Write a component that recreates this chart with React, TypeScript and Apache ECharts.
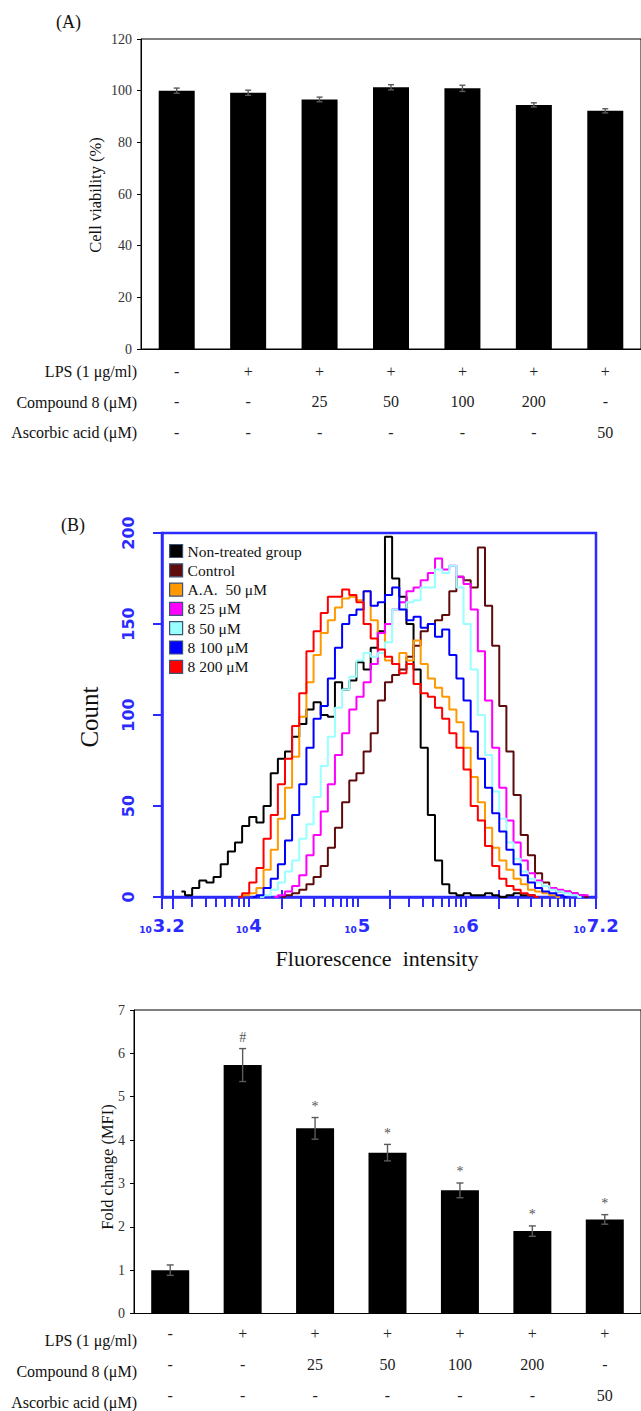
import React, { useEffect, useRef } from "react";
import * as echarts from "echarts";

// ---------- DATA ----------
const groups = ["Non-treated", "LPS", "LPS+8 25", "LPS+8 50", "LPS+8 100", "LPS+8 200", "LPS+A.A. 50"];
const lpsRow = ["-", "+", "+", "+", "+", "+", "+"];
const compoundRow = ["-", "-", "25", "50", "100", "200", "-"];
const ascorbicRow = ["-", "-", "-", "-", "-", "-", "50"];
const rowLabels = ["LPS (1 μg/ml)", "Compound 8 (μM)", "Ascorbic acid (μM)"];

const viability = [100.0, 99.2, 96.6, 101.3, 100.9, 94.5, 92.2];
const viabilityErr = [1.0, 1.0, 0.9, 1.0, 1.2, 0.8, 0.8];
const viabilityTicks = [0, 20, 40, 60, 80, 100, 120];

const foldChange = [1.0, 5.73, 4.27, 3.71, 2.84, 1.9, 2.17];
const foldErr = [0.12, 0.38, 0.25, 0.19, 0.17, 0.12, 0.11];
const foldMarks = ["", "#", "*", "*", "*", "*", "*"];

// flow cytometry histogram bins (log10 of fluorescence intensity)
const logBins = [
  3.379, 3.445, 3.511, 3.576, 3.642, 3.708, 3.774, 3.84, 3.906, 3.971,
  4.037, 4.103, 4.169, 4.235, 4.301, 4.366, 4.432, 4.498, 4.564, 4.63,
  4.696, 4.761, 4.827, 4.893, 4.959, 5.025, 5.091, 5.156, 5.222, 5.288,
  5.354, 5.42, 5.486, 5.551, 5.617, 5.683, 5.749, 5.815, 5.881, 5.946,
  6.012, 6.078, 6.144, 6.21, 6.276, 6.341, 6.407, 6.473, 6.539, 6.605,
  6.671, 6.736, 6.802, 6.868, 6.934, 7.0, 7.066, 7.131,
];
const histNames = ["Non-treated group", "Control", "A.A.  50 μM", "8 25 μM", "8 50 μM", "8 100 μM", "8 200 μM"];
const histColors = ["#000000", "#5e0b0b", "#ff9900", "#ff00ff", "#99ffff", "#0000ff", "#ff0000"];
const nonTreated = [
  3, 1, 5, 9, 8, 11, 18, 25, 30, 39, 44, 41, 50, 68, 76, 80, 88, 95, 103, 107,
  100, 99, 118, 114, 119, 129, 125, 137, 146, 198, 175, 165, 150, 125, 82, 45, 20, 7, 2, 1,
  2, 1, 1, 2, 1, 0, 1, 2, 1, 1, 0, 0, 0, 0, 0, 0, 0, 0,
];
const control = [
  0, 0, 0, 0, 0, 0, 0, 0, 0, 0, 0, 0, 0, 0, 0, 1, 2, 4, 7, 11,
  17, 27, 38, 52, 64, 68, 80, 90, 108, 118, 122, 125, 132, 138, 146, 150, 152, 155, 168, 176,
  174, 170, 192, 160, 138, 105, 80, 56, 34, 23, 13, 8, 5, 3, 3, 2, 1, 0,
];
const aa50 = [
  0, 0, 0, 0, 0, 0, 0, 0, 0, 1, 2, 5, 15, 26, 43, 60, 77, 99, 118, 133,
  145, 152, 159, 164, 165, 163, 168, 152, 145, 130, 128, 134, 130, 141, 128, 120, 115, 110, 103, 96,
  82, 66, 52, 38, 27, 20, 15, 10, 7, 4, 3, 2, 1, 0, 0, 0, 0, 0,
];
const c25 = [
  0, 0, 0, 0, 0, 0, 0, 0, 0, 0, 0, 0, 0, 0, 1, 3, 6, 12, 23, 34,
  47, 62, 78, 90, 103, 110, 118, 128, 145, 150, 158, 162, 168, 170, 174, 178, 186, 180, 182, 176,
  172, 158, 135, 108, 82, 60, 42, 30, 20, 13, 9, 6, 5, 4, 3, 2, 1, 1,
];
const c50 = [
  0, 0, 0, 0, 0, 0, 0, 0, 0, 0, 0, 0, 1, 4, 8, 14, 20, 32, 40, 55,
  72, 88, 104, 114, 121, 130, 134, 132, 134, 140, 158, 158, 162, 163, 170, 170, 180, 178, 182, 170,
  150, 125, 100, 78, 58, 43, 30, 21, 14, 10, 8, 6, 4, 3, 2, 1, 0, 0,
];
const c100 = [
  0, 0, 0, 0, 0, 0, 0, 0, 0, 0, 0, 1, 5, 10, 18, 31, 45, 62, 82, 98,
  105, 120, 137, 150, 155, 158, 168, 160, 162, 166, 170, 158, 152, 154, 148, 150, 143, 147, 133, 120,
  108, 91, 76, 60, 46, 36, 26, 18, 12, 8, 5, 3, 2, 1, 0, 0, 0, 0,
];
const c200 = [
  0, 0, 0, 0, 0, 0, 0, 0, 0, 2, 8, 16, 32, 45, 62, 76, 94, 112, 135, 146,
  156, 165, 165, 169, 166, 162, 150, 142, 136, 132, 128, 123, 128, 117, 112, 110, 104, 98, 90, 82,
  70, 50, 42, 28, 17, 10, 6, 4, 2, 1, 0, 0, 0, 0, 0, 0, 0, 0,
];
const histCounts = [nonTreated, control, aa50, c25, c50, c100, c200];
const countTicks = [0, 50, 100, 150, 200];
const fluorLabelExps = [3.2, 4, 5, 6, 7.2];
const fluorDecades = [3, 4, 5, 6, 7];
const fluorMinorMult = [1, 3, 4, 5, 6, 7, 8, 9];
const fluorMajorMult = [2];

// ---------- STYLE ----------
const SERIF = '"Liberation Serif", "Times New Roman", serif';
const BLUE = "#2b2bff";
const XMIN = 3.2;
const XMAX = 7.2;

function toPairs(counts: number[]) {
  let s = counts.findIndex((c) => c > 0);
  s = Math.max(0, s - 1);
  const rev = [...counts].reverse().findIndex((c) => c > 0);
  let e = counts.length - 1 - rev;
  e = Math.min(counts.length - 1, e + 1);
  const out: number[][] = [];
  for (let i = s; i <= e; i++) out.push([logBins[i], counts[i]]);
  return out;
}

const minorTickVals: number[] = [];
fluorDecades.forEach((d) =>
  fluorMinorMult.forEach((m) => {
    const v = d + Math.log10(m);
    if (v > XMIN + 0.01 && v < XMAX - 0.01) minorTickVals.push(v);
  })
);
const majorTickVals: number[] = [XMIN, XMAX];
fluorDecades.forEach((d) =>
  fluorMajorMult.forEach((m) => {
    const v = d + Math.log10(m);
    if (v > XMIN && v < XMAX) majorTickVals.push(v);
  })
);

function errRenderer(marks: string[] | null, cap: number) {
  return (params: any, api: any) => {
    const i = api.value(0);
    const v = api.value(1);
    const e = api.value(2);
    const hi = api.coord([i, v + e]);
    const lo = api.coord([i, v - e]);
    const st = { stroke: "#5a5a5a", lineWidth: 1.4 };
    const children: any[] = [
      { type: "line", shape: { x1: hi[0], y1: hi[1], x2: lo[0], y2: lo[1] }, style: st },
      { type: "line", shape: { x1: hi[0] - cap, y1: hi[1], x2: hi[0] + cap, y2: hi[1] }, style: st },
      { type: "line", shape: { x1: lo[0] - cap, y1: lo[1], x2: lo[0] + cap, y2: lo[1] }, style: st },
    ];
    if (marks && marks[i]) {
      children.push({
        type: "text",
        x: hi[0],
        y: hi[1] - 11,
        style: {
          text: marks[i],
          align: "center",
          verticalAlign: "middle",
          textAlign: "center",
          textVerticalAlign: "middle",
          font: `14px ${SERIF}`,
          fill: "#555",
        },
      });
    }
    return { type: "group", children };
  };
}

function tableFormatter(_v: string, idx: number) {
  return `${lpsRow[idx]}\n${compoundRow[idx]}\n${ascorbicRow[idx]}`;
}

function gText(text: string, x: number, y: number, size: number, align: string, rotate = 0, extra: any = {}) {
  return {
    type: "text",
    x,
    y,
    rotation: rotate,
    style: {
      text,
      font: `${size}px ${SERIF}`,
      fill: "#111",
      align,
      verticalAlign: "middle",
      textAlign: align,
      textVerticalAlign: "middle",
      ...extra,
    },
  };
}

const option: any = {
  animation: false,
  backgroundColor: "#ffffff",
  grid: [
    { left: 141, top: 39, width: 501, height: 310, show: true, borderColor: "#000", borderWidth: 1 },
    { left: 162, top: 533, width: 434, height: 364, show: true, borderColor: BLUE, borderWidth: 2.5 },
    { left: 134, top: 1010, width: 516, height: 310, show: true, borderColor: "#000", borderWidth: 1 },
  ],
  legend: {
    data: histNames,
    orient: "vertical",
    left: 169,
    top: 543,
    padding: 0,
    itemWidth: 13,
    itemHeight: 13,
    itemGap: 3.3,
    icon: "rect",
    selectedMode: false,
    itemStyle: { borderColor: "#3d5275", borderWidth: 1.2 },
    textStyle: { fontFamily: SERIF, fontSize: 15.5, color: "#111", padding: [0, 0, 0, 0] },
  },
  xAxis: [
    {
      gridIndex: 0,
      type: "category",
      data: groups,
      axisLine: { lineStyle: { color: "#000", width: 1 } },
      axisTick: { show: false },
      axisLabel: {
        interval: 0,
        margin: 7,
        formatter: tableFormatter,
        fontFamily: SERIF,
        fontSize: 16,
        lineHeight: 30.5,
        color: "#222",
      },
    },
    {
      gridIndex: 1,
      type: "value",
      min: XMIN,
      max: XMAX,
      position: "bottom",
      splitLine: { show: false },
      axisLine: { lineStyle: { color: BLUE, width: 2.5 } },
      axisTick: { show: true, customValues: minorTickVals, length: 10, lineStyle: { color: BLUE, width: 2 } },
      axisLabel: {
        customValues: fluorLabelExps,
        margin: 19,
        color: BLUE,
        formatter: (v: number) => `{s|10}{e|${Number.isInteger(v) ? v : v.toFixed(1)}}`,
        rich: {
          s: { fontSize: 9, fontWeight: "bold", fontFamily: "DejaVu Sans", color: BLUE, verticalAlign: "bottom", padding: [8, 1, 0, 0] },
          e: { fontSize: 18, fontWeight: "bold", fontFamily: "DejaVu Sans", color: BLUE },
        },
      },
    },
    {
      gridIndex: 1,
      type: "value",
      min: XMIN,
      max: XMAX,
      position: "bottom",
      offset: -7,
      splitLine: { show: false },
      axisLine: { show: false },
      axisLabel: { show: false },
      axisTick: { show: true, customValues: majorTickVals, length: 19, lineStyle: { color: BLUE, width: 2 } },
    },
    {
      gridIndex: 2,
      type: "category",
      data: groups,
      axisLine: { lineStyle: { color: "#000", width: 1 } },
      axisTick: { show: false },
      axisLabel: {
        interval: 0,
        margin: 4.5,
        formatter: tableFormatter,
        fontFamily: SERIF,
        fontSize: 16,
        lineHeight: 31,
        color: "#222",
      },
    },
  ],
  yAxis: [
    {
      gridIndex: 0,
      type: "value",
      min: viabilityTicks[0],
      max: viabilityTicks[viabilityTicks.length - 1],
      interval: 20,
      splitLine: { show: false },
      axisLine: { show: true, lineStyle: { color: "#000", width: 1 } },
      axisTick: { show: true, length: 4, lineStyle: { color: "#000" } },
      axisLabel: { fontFamily: SERIF, fontSize: 14, color: "#333", margin: 9 },
    },
    {
      gridIndex: 1,
      type: "value",
      min: countTicks[0],
      max: countTicks[countTicks.length - 1],
      interval: 50,
      splitLine: { show: false },
      axisLine: { show: true, lineStyle: { color: BLUE, width: 2.5 } },
      axisTick: { show: true, length: 9, lineStyle: { color: BLUE, width: 2 } },
      axisLabel: {
        rotate: 90,
        margin: 26,
        color: BLUE,
        fontFamily: "DejaVu Sans",
        fontWeight: "bold",
        fontSize: 16,
      },
    },
    {
      gridIndex: 2,
      type: "value",
      min: 0,
      max: 7,
      interval: 1,
      splitLine: { show: false },
      axisLine: { show: true, lineStyle: { color: "#000", width: 1 } },
      axisTick: { show: true, length: 4, lineStyle: { color: "#000" } },
      axisLabel: { fontFamily: SERIF, fontSize: 14, color: "#333", margin: 9 },
    },
  ],
  series: [
    {
      type: "bar",
      xAxisIndex: 0,
      yAxisIndex: 0,
      data: viability,
      barWidth: 36,
      itemStyle: { color: "#000" },
    },
    {
      type: "custom",
      xAxisIndex: 0,
      yAxisIndex: 0,
      z: 5,
      clip: false,
      encode: { x: 0, y: 1 },
      data: viability.map((v, i) => [i, v, viabilityErr[i]]),
      renderItem: errRenderer(null, 3),
    },
    ...histCounts.map((counts, k) => ({
      type: "line",
      name: histNames[k],
      xAxisIndex: 1,
      yAxisIndex: 1,
      data: toPairs(counts),
      step: "middle",
      showSymbol: false,
      symbol: "none",
      color: histColors[k],
      lineStyle: { color: histColors[k], width: 2 },
      z: 3 + k * 0.01,
    })),
    {
      type: "bar",
      xAxisIndex: 3,
      yAxisIndex: 2,
      data: foldChange,
      barWidth: 38,
      itemStyle: { color: "#000" },
    },
    {
      type: "custom",
      xAxisIndex: 3,
      yAxisIndex: 2,
      z: 5,
      clip: false,
      encode: { x: 0, y: 1 },
      data: foldChange.map((v, i) => [i, v, foldErr[i]]),
      renderItem: errRenderer(foldMarks, 3.5),
    },
  ],
  graphic: [
    gText("(A)", 56, 22, 18, "left"),
    gText("(B)", 61, 525, 18, "left"),
    gText(rowLabels[0], 137, 371, 16, "right"),
    gText(rowLabels[1], 137, 402, 16, "right"),
    gText(rowLabels[2], 137, 432, 16, "right"),
    gText(rowLabels[0], 137, 1340, 16, "right"),
    gText(rowLabels[1], 137, 1371, 16, "right"),
    gText(rowLabels[2], 137, 1402, 16, "right"),
    gText("Cell viability (%)", 95, 195, 16.5, "center", Math.PI / 2),
    gText("Fold change (MFI)", 107, 1167, 16.5, "center", Math.PI / 2),
    gText("Count", 89, 717, 25, "center", Math.PI / 2),
    gText("Fluorescence  intensity", 377, 958, 22, "center"),
  ],
};

export default function App() {
  const ref = useRef<HTMLDivElement>(null);
  useEffect(() => {
    document.body.style.margin = "0";
    const chart = echarts.init(ref.current as HTMLDivElement, null, { renderer: "svg" });
    chart.setOption(option);
    return () => chart.dispose();
  }, []);
  return <div ref={ref} style={{ width: 641, height: 1411 }} />;
}
